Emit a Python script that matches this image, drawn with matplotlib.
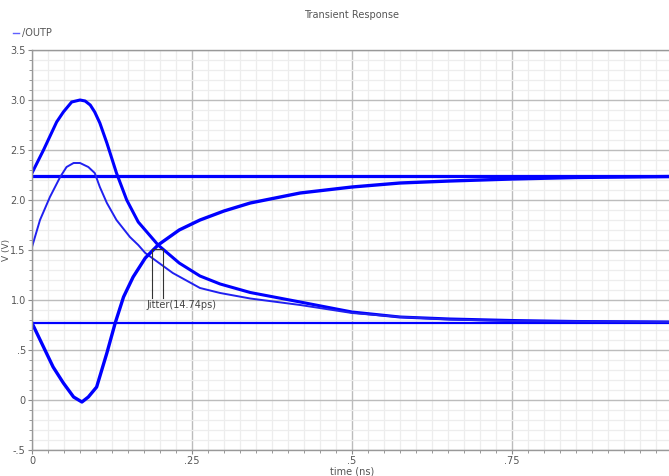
import matplotlib
matplotlib.use("Agg")
import matplotlib.pyplot as plt
from matplotlib.ticker import MultipleLocator, FixedLocator
from matplotlib.lines import Line2D

# ---- data ----
t_a = [0, 0.018, 0.0385, 0.049, 0.062, 0.075, 0.083, 0.091, 0.098, 0.106, 0.117,
       0.132, 0.148, 0.166, 0.197, 0.23, 0.2625, 0.294, 0.341, 0.419, 0.5,
       0.575, 0.653, 0.75, 0.85, 1.0]
v_a = [2.27, 2.5, 2.78, 2.88, 2.98, 3.0, 2.99, 2.95, 2.88, 2.77, 2.57,
       2.27, 2.0, 1.78, 1.55, 1.37, 1.24, 1.16, 1.075, 0.98, 0.88,
       0.83, 0.81, 0.795, 0.785, 0.78]

t_b = [0, 0.0125, 0.028, 0.044, 0.054, 0.065, 0.075, 0.088, 0.098, 0.106, 0.117,
       0.132, 0.153, 0.166, 0.177, 0.22, 0.2625, 0.294, 0.341, 0.419, 0.5,
       0.575, 0.653, 0.75, 1.0]
v_b = [1.53, 1.8, 2.03, 2.23, 2.33, 2.37, 2.37, 2.33, 2.27, 2.13, 1.97,
       1.8, 1.63, 1.55, 1.47, 1.27, 1.12, 1.07, 1.015, 0.95, 0.87,
       0.83, 0.805, 0.79, 0.78]

t_c = [0, 0.018, 0.033, 0.049, 0.065, 0.078, 0.088, 0.101, 0.117, 0.130, 0.143,
       0.158, 0.177, 0.197, 0.23, 0.2625, 0.3, 0.341, 0.419, 0.5, 0.575,
       0.653, 0.75, 0.85, 1.0]
v_c = [0.77, 0.53, 0.33, 0.17, 0.03, -0.02, 0.03, 0.13, 0.47, 0.77, 1.03,
       1.23, 1.42, 1.55, 1.70, 1.80, 1.89, 1.97, 2.07, 2.13, 2.17,
       2.19, 2.21, 2.225, 2.235]

flat_levels = [2.245, 2.232, 0.773]

jitter_t = [0.188, 0.204]
jitter_v_top = 1.51
jitter_v_bottom = 1.02
jitter_label = "Jitter(14.74ps)"

y_ticks = [-0.5, 0, 0.5, 1.0, 1.5, 2.0, 2.5, 3.0, 3.5]
y_labels = ["-.5", "0", ".5", "1.0", "1.5", "2.0", "2.5", "3.0", "3.5"]
x_ticks = [0, 0.25, 0.5, 0.75]
x_labels = ["0", ".25", ".5", ".75"]

# ---- figure ----
W, H = 669, 476
fig = plt.figure(figsize=(W / 100, H / 100), dpi=100)
ax = fig.add_axes([32 / W, 26 / H, 640 / W, 400 / H])

blue = "#0000ff"
gray_txt = "#555555"

ax.set_xlim(0, 1.0)
ax.set_ylim(-0.5, 3.5)

ax.xaxis.set_major_locator(FixedLocator(x_ticks))
ax.set_xticklabels(x_labels)
ax.xaxis.set_minor_locator(MultipleLocator(0.025))
ax.yaxis.set_major_locator(FixedLocator(y_ticks))
ax.set_yticklabels(y_labels)
ax.yaxis.set_minor_locator(MultipleLocator(0.1))

ax.grid(which="major", color="#bcbcbc", linewidth=1.0)
ax.grid(which="minor", color="#ededed", linewidth=0.9)
ax.set_axisbelow(True)

for s in ["left", "bottom", "top"]:
    ax.spines[s].set_color("#999999")
    ax.spines[s].set_linewidth(1.0)
ax.spines["right"].set_visible(False)

ax.tick_params(which="major", length=3, width=0.8, color="#888888",
               labelsize=7, labelcolor=gray_txt, pad=1.5)
ax.tick_params(which="minor", length=2, width=0.6, color="#888888")

# flat traces
for lv in flat_levels:
    ax.plot([0, 1.0], [lv, lv], color=blue, linewidth=1.6, solid_capstyle="butt")

ax.plot(t_a, v_a, color=blue, linewidth=2.2, solid_joinstyle="round")
ax.plot(t_b, v_b, color="#2020f0", linewidth=1.4, solid_joinstyle="round")
ax.plot(t_c, v_c, color=blue, linewidth=2.4, solid_joinstyle="round")

# jitter marker
for jt in jitter_t:
    ax.plot([jt, jt], [jitter_v_bottom, jitter_v_top], color="#333333", linewidth=0.8)
ax.plot(jitter_t, [jitter_v_top, jitter_v_top], color="#333333", linewidth=0.8)
ax.text(0.179, 0.945, jitter_label, fontsize=7, color="#444444",
        ha="left", va="center")

ax.set_xlabel("time (ns)", fontsize=7, color=gray_txt, labelpad=0)
fig.text(6 / W, 1 - 250 / H, "V (V)", fontsize=6.5, color=gray_txt,
         rotation=90, ha="center", va="center")
fig.text(352 / W, 1 - 15 / H, "Transient Response", fontsize=7, color=gray_txt,
         ha="center", va="center")

# legend at top-left
fig.add_artist(Line2D([13 / W, 19 / W], [1 - 33 / H, 1 - 33 / H],
                      color="#6060ff", linewidth=1.0, transform=fig.transFigure))
fig.text(22 / W, 1 - 33 / H, "/OUTP", fontsize=7, color=gray_txt,
         ha="left", va="center")

fig.savefig("out.png", dpi=100)
